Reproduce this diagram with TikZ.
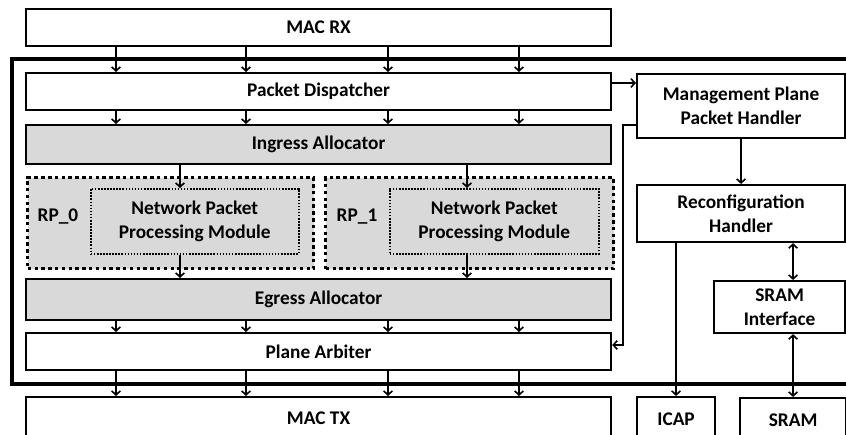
\documentclass[tikz,border=0pt]{standalone}
\usepackage{fontspec}
\setmainfont{Carlito}
\usetikzlibrary{arrows.meta}

\definecolor{boxgray}{RGB}{217,217,217}

\tikzset{
  blk/.style={draw, line width=1.6pt, fill=white, anchor=north west, inner sep=0.75pt, align=center,
    font=\fontsize{14.5}{18}\selectfont\bfseries},
  grayblk/.style={blk, fill=boxgray},
  rpbox/.style={blk, fill=boxgray, line width=2.6pt, dash pattern={on 2.6pt off 2.5pt}},
  modbox/.style={blk, fill=boxgray, line width=1.2pt, dash pattern={on 1.2pt off 1.1pt}},
  sz/.style 2 args={minimum width=#1*0.75pt, minimum height=#2*0.75pt},
  arr/.style={line width=1.2pt, -{Straight Barb[length=3pt,width=6.5pt]}},
  darr/.style={line width=1.2pt, {Straight Barb[length=3pt,width=6.5pt]}-{Straight Barb[length=3pt,width=6.5pt]}}
}

\begin{document}
\begin{tikzpicture}[x=0.75pt,y=0.75pt,yscale=-1,xscale=1]
            \useasboundingbox (0,0) rectangle (846,435);
            \clip (0,0) rectangle (846,435);
            %Shape: Rectangle [thick border]
            \draw [line width=3.6pt] (12,59) rectangle (870,384) ;

            %Shape: Rectangle
            \node [blk, sz={585}{37}] (macrx) at (25,8) {MAC RX};
            %Shape: Rectangle
            \node [blk, sz={585}{37}] (disp) at (25,72) {Packet Dispatcher};
            %Shape: Rectangle
            \node [grayblk, sz={585}{39}] (ingress) at (25,124) {Ingress Allocator};
            %Shape: Rectangle
            \node [rpbox, sz={286}{91}] (rp0) at (26,176) {};
            %Shape: Rectangle
            \node [rpbox, sz={288}{91}] (rp1) at (324,176) {};
            %Shape: Rectangle
            \node [modbox, sz={208}{65}] (nppm0) at (90,188) {Network Packet\\Processing Module};
            %Shape: Rectangle
            \node [modbox, sz={209}{65}] (nppm1) at (389,188) {Network Packet\\Processing Module};
            %Shape: Rectangle
            \node [grayblk, sz={585}{41}] (egress) at (25,278) {Egress Allocator};
            %Shape: Rectangle
            \node [blk, sz={585}{37}] (arbiter) at (25,332) {Plane Arbiter};
            %Shape: Rectangle
            \node [blk, sz={585}{42}] (mactx) at (25,396) {MAC TX};
            %Shape: Rectangle
            \node [blk, sz={208}{64}] (mgmt) at (636,73) {Management Plane\\Packet Handler};
            %Shape: Rectangle
            \node [blk, sz={208}{57}] (reconf) at (636,184) {Reconfiguration\\Handler};
            %Shape: Rectangle
            \node [blk, sz={131}{52}] (sramif) at (713,280) {SRAM\\Interface};
            %Shape: Rectangle
            \node [blk, sz={78}{44}] (icap) at (636,396) {ICAP};
            %Shape: Rectangle
            \node [blk, sz={106}{44}] (sram) at (739,397) {SRAM};

            % Text Node
            \node [anchor=center, font=\fontsize{14.5}{18}\selectfont\bfseries] (rp0lbl) at (58,217) {RP\_0};
            % Text Node
            \node [anchor=center, font=\fontsize{14.5}{18}\selectfont\bfseries] (rp1lbl) at (357,217) {RP\_1};

            %Straight Lines
            \foreach \x in {116,246,388,519} {
              \draw [arr] (\x,0 |- macrx.south) -- (\x,0 |- disp.north) ;
              \draw [arr] (\x,0 |- disp.south) -- (\x,0 |- ingress.north) ;
              \draw [arr] (\x,0 |- egress.south) -- (\x,0 |- arbiter.north) ;
              \draw [arr] (\x,0 |- arbiter.south) -- (\x,0 |- mactx.north) ;
            }
            %Straight Lines
            \draw [arr] (180,0 |- ingress.south) -- (180,0 |- nppm0.north) ;
            \draw [arr] (180,0 |- nppm0.south) -- (180,0 |- egress.north) ;
            \draw [arr] (467,0 |- ingress.south) -- (467,0 |- nppm1.north) ;
            \draw [arr] (467,0 |- nppm1.south) -- (467,0 |- egress.north) ;
            %Straight Lines
            \draw [arr] (disp.east |- 0,83) -- (mgmt.west |- 0,83) ;
            \draw [arr] (mgmt.west |- 0,125) -- (623,125) -- (623,345) -- (arbiter.east |- 0,345) ;
            \draw [arr] (mgmt.south) -- (mgmt.south |- reconf.north) ;
            \draw [arr] (icap.north |- reconf.south) -- (icap.north) ;
            \draw [darr] (sram.north |- reconf.south) -- (sram.north |- sramif.north) ;
            \draw [darr] (sram.north |- sramif.south) -- (sram.north) ;
        \end{tikzpicture}
\end{document}
